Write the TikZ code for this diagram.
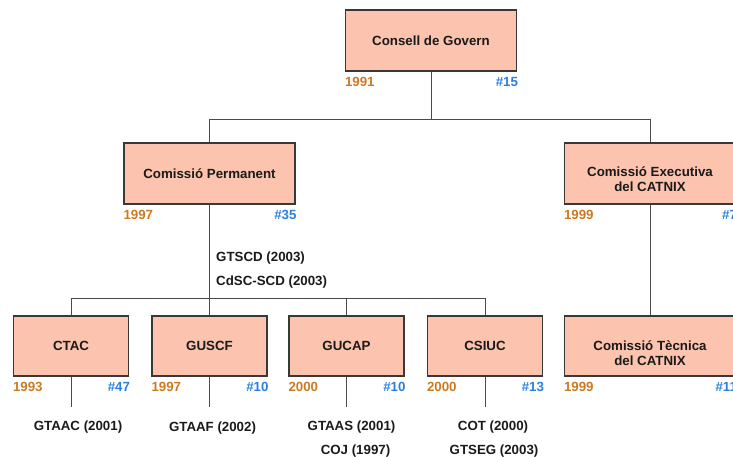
\documentclass[tikz,border=0pt]{standalone}
\usepackage{fontspec}
\setmainfont{Liberation Sans}
\definecolor{boxfill}{HTML}{FCC3AE}
\definecolor{boxline}{HTML}{383838}
\definecolor{connline}{HTML}{4A4A4A}
\definecolor{yearcol}{HTML}{CC7A22}
\definecolor{numcol}{HTML}{2A7FE0}
\definecolor{txtcol}{HTML}{1A1A1A}
\begin{document}
\begin{tikzpicture}[x=1pt,y=-1pt,
  box/.style={draw=boxline, fill=boxfill, line width=1.3pt, inner sep=0pt,
    minimum height=61pt, align=center, text=txtcol,
    font=\bfseries\fontsize{13.3}{14.5}\selectfont},
  wide/.style={box, minimum width=171pt},
  small/.style={box, minimum width=115pt, minimum height=60pt},
  conn/.style={draw=connline, line width=1pt},
  lbl/.style={inner sep=0pt, font=\bfseries\fontsize{13.3}{15}\selectfont},
  yr/.style={lbl, anchor=west, text=yearcol},
  num/.style={lbl, anchor=east, text=numcol},
  sub/.style={lbl, text=txtcol}
]
\useasboundingbox (0,0) rectangle (733,457);
\clip (0,0) rectangle (733,457);
% boxes
\node[wide] (cg) at (431,40.5) {Consell de Govern};
\node[wide] (cp) at (209.5,173.5) {Comissió Permanent};
\node[wide] (ce) at (650,173.5) {\rule{0pt}{21pt}Comissió Executiva\\del CATNIX};
\node[small] (ctac) at (71,346) {CTAC};
\node[small] (guscf) at (209.5,346) {GUSCF};
\node[small] (gucap) at (346.5,346) {GUCAP};
\node[small] (csiuc) at (485,346) {CSIUC};
\node[wide, minimum height=60pt] (ct) at (650,346) {\rule{0pt}{24pt}Comissió Tècnica\\del CATNIX};
% year / number labels
\foreach \b/\y/\n in {cg/1991/15, cp/1997/35, ce/1999/7, ctac/1993/47, guscf/1997/10, gucap/2000/10, csiuc/2000/13, ct/1999/11}{
  \node[yr] (\b-yr) at ([shift={(0,10)}]\b.south west) {\y};
  \node[num] (\b-nm) at ([shift={(1,10)}]\b.south east) {\#\n};
}
% connectors level 1
\path (cg.south) ++(0,47.5) coordinate (j1);
\draw[conn] (cg.south) -- (j1);
\draw[conn] (cp.north) |- (j1) -| (ce.north);
% connectors level 2
\path (cp.south) ++(0,94) coordinate (j2);
\draw[conn] (cp.south) -- (guscf.north);
\draw[conn] (ctac.north) |- (j2) -| (csiuc.north);
\draw[conn] (gucap.north) -- (gucap.north |- j2);
\draw[conn] (ce.south) -- (ct.north);
% working groups
\node[sub, anchor=west] (gtscd) at (216,258) {GTSCD (2003)};
\node[sub, anchor=west] (cdsc) at (216,282) {CdSC-SCD (2003)};
\foreach \b in {ctac,guscf,gucap,csiuc}{
  \path (\b.south) ++(0,30) coordinate (\b-end);
  \draw[conn] (\b.south) -- (\b-end);
}
\node[sub] (gtaac) at ([shift={(7,20)}]ctac-end) {GTAAC (2001)};
\node[sub] (gtaaf) at ([shift={(3,21)}]guscf-end) {GTAAF (2002)};
\node[sub] (gtaas) at ([shift={(5,20)}]gucap-end) {GTAAS (2001)};
\node[sub] (coj) at ([shift={(9,44)}]gucap-end) {COJ (1997)};
\node[sub] (cot) at ([shift={(8,20)}]csiuc-end) {COT (2000)};
\node[sub] (gtseg) at ([shift={(9,44)}]csiuc-end) {GTSEG (2003)};
\end{tikzpicture}
\end{document}
